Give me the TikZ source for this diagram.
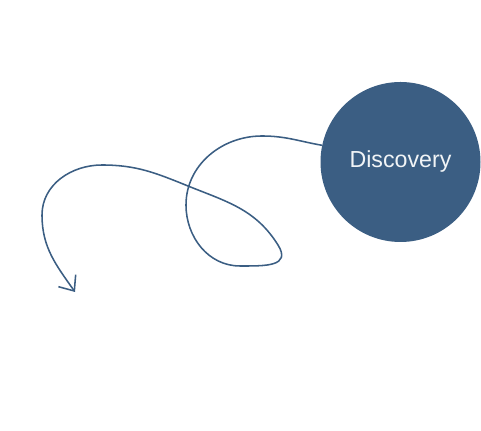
\documentclass[tikz,border=0pt]{standalone}
\usepackage{fontspec}
\setsansfont{Liberation Sans}
\usepackage{tikz}
\usetikzlibrary{arrows.meta}
\definecolor{discblue}{RGB}{59,94,131}

\begin{document}
\begin{tikzpicture}[x=0.025cm, y=0.025cm,
		disc_style/.style={circle,fill=discblue,minimum size=160*0.025cm,inner sep=0pt,text=white!93!discblue,font=\sffamily\fontsize{16.5}{19}\selectfont},
		curve_style/.style={draw=discblue,line width=1.1pt,-{Straight Barb[length=9pt,width=15pt]}}]

		\useasboundingbox (0,0) rectangle (481,431);

		\node[disc_style] (disc) at (400.5,269)  {Discovery};

		\coordinate (p1) at (262,295);
		\coordinate (p2) at (186,226);
		\coordinate (p3) at (240,165);
		\coordinate (p4) at (278,186);
		\coordinate (p5) at (188,245);
		\coordinate (p7) at (102,266);
		\coordinate (p8) at (42,216);
		\coordinate (p9) at (75,139);

		\draw[curve_style] (disc.168) to[out=170,in=0] (p1)
			to[out=180,in=90] (p2)
			to[out=270,in=180] (p3)
			to[out=0,in=302,looseness=1.5] (p4)
			to[out=122,in=338] (p5)
			to[out=158,in=0] (p7)
			to[out=180,in=90] (p8)
			to[out=270,in=125] (p9);
		\end{tikzpicture}
\end{document}
